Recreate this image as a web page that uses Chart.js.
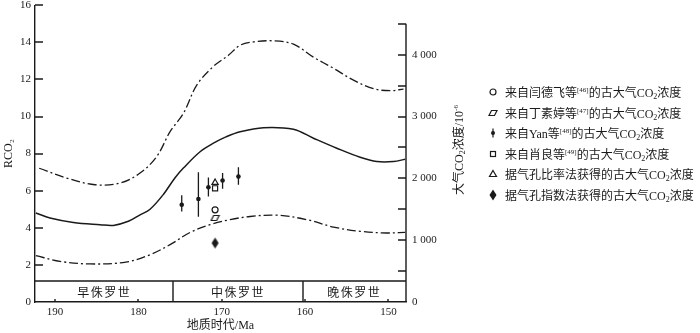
<!DOCTYPE html>
<html>
<head>
<meta charset="utf-8">
<script src="https://cdn.jsdelivr.net/npm/chart.js@4.4.1/dist/chart.umd.min.js"></script>
<style>
  body { margin: 0; background: #fff; }
  #wrap { position: relative; width: 700px; height: 333px; }
  #legend { position: absolute; left: 487px; top: 82px; font: 12px "Liberation Serif", "Noto Sans CJK SC", serif; color: #1a1a1a; }
  .row { height: 20.5px; display: flex; align-items: center; white-space: nowrap; }
  .row canvas { width: 12px; height: 14px; margin-right: 6px; }
  sup { font-size: 7px; vertical-align: 5px; }
  sub { font-size: 8px; vertical-align: -2px; }
  #ytitle2 { position: absolute; left: 458px; top: 150px; transform: translate(-50%, -50%) rotate(-90deg);
    font: 12px "Liberation Serif", "Noto Sans CJK SC", serif; color: #1a1a1a; white-space: nowrap; }
</style>
</head>
<body>
<div id="wrap">
  <canvas id="chart" width="700" height="333"></canvas>
  <div id="ytitle2">大气CO<sub>2</sub>浓度/10<sup>-6</sup></div>
  <div id="legend"></div>
</div>
<script>
// tick labels
const xTicks = [190, 180, 170, 160, 150];
const yTicks = [0, 2, 4, 6, 8, 10, 12, 14, 16];
const y2Ticks = [0, 500, 1000, 1500, 2000, 2500, 3000, 3500, 4000, 4500];
const xMin = 147.9, xMax = 192.4;

// model curves (age Ma, RCO2)
const upperAge = [191.9, 188.6, 185.2, 182.2, 179.8, 177.8, 176.2, 174.6, 173, 171, 169.2, 167.8, 166.2, 163.8, 161.4, 159, 156.6, 154.2, 151.8, 149.8, 148.2];
const upperR = [7.21, 6.68, 6.32, 6.41, 6.95, 7.84, 9.18, 10.17, 11.69, 12.7, 13.3, 13.84, 14.02, 14.08, 13.9, 13.2, 12.6, 11.96, 11.5, 11.39, 11.48];
const midAge = [192.3, 190.6, 187.8, 184.6, 183, 181.2, 179.8, 178.6, 177, 175.6, 174.6, 172.6, 171, 169.5, 167.8, 165, 161.4, 159, 156.2, 153.4, 151.4, 149.4, 148];
const midR = [4.8, 4.53, 4.29, 4.17, 4.13, 4.35, 4.7, 5.0, 5.8, 6.7, 7.22, 8.1, 8.56, 8.9, 9.18, 9.4, 9.31, 8.83, 8.29, 7.8, 7.57, 7.57, 7.7];
const lowerAge = [192.3, 189.4, 185.8, 181.5, 178.6, 176.2, 173.8, 171.4, 169, 166.6, 163.4, 159.8, 156.6, 153.4, 150.2, 148];
const lowerR = [2.5, 2.19, 2.05, 2.15, 2.55, 3.09, 3.75, 4.17, 4.44, 4.61, 4.68, 4.44, 4.04, 3.81, 3.72, 3.75];

// proxy data
const yanAge = [174.8, 172.8, 171.6, 169.9, 168.0];
const yanR = [5.24, 5.55, 6.19, 6.55, 6.76];
const yanLow = [4.88, 4.6, 5.69, 6.1, 6.32];
const yanHigh = [5.75, 7.0, 6.71, 6.95, 7.27];
const proxyAge = 170.8;
const yanDefeiR = [4.97];
const dingR = [4.53];
const xiaoR = [6.13];
const ratioR = [6.44];
const indexR = [3.18];

// epochs
const epochNames = ['早侏罗世', '中侏罗世', '晚侏罗世'];
const epochEdges = [xMax, 175.8, 160.3, xMin];
const epochTop = 1.12;

const ink = '#1a1a1a';
const serif = '"Liberation Serif", "Noto Sans CJK SC", serif';

function markCanvas(w, h, draw) {
  const c = document.createElement('canvas');
  c.width = w; c.height = h;
  const g = c.getContext('2d');
  g.strokeStyle = ink; g.fillStyle = ink; g.lineWidth = 1.2;
  draw(g, w, h);
  return c;
}
const drawPara = (g, w, h) => { const cx = w / 2, cy = h / 2; g.beginPath(); g.moveTo(cx - 1.5, cy - 2.5); g.lineTo(cx + 4, cy - 2.5); g.lineTo(cx + 1.5, cy + 2.5); g.lineTo(cx - 4, cy + 2.5); g.closePath(); g.stroke(); };
const drawDiamond = (g, w, h) => { const cx = w / 2, cy = h / 2; g.beginPath(); g.moveTo(cx, cy - 5.5); g.lineTo(cx + 3.5, cy); g.lineTo(cx, cy + 5.5); g.lineTo(cx - 3.5, cy); g.closePath(); g.fill(); };
const drawCircle = (g, w, h) => { g.beginPath(); g.arc(w / 2, h / 2, 3, 0, Math.PI * 2); g.stroke(); };
const drawYan = (g, w, h) => { g.beginPath(); g.moveTo(w / 2, h / 2 - 4.5); g.lineTo(w / 2, h / 2 + 4.5); g.stroke(); g.beginPath(); g.arc(w / 2, h / 2, 2, 0, Math.PI * 2); g.fill(); };
const drawSquare = (g, w, h) => { g.strokeRect(w / 2 - 2.5, h / 2 - 2.5, 5, 5); };
const drawTri = (g, w, h) => { g.beginPath(); g.moveTo(w / 2, h / 2 - 3.5); g.lineTo(w / 2 + 3.5, h / 2 + 2.5); g.lineTo(w / 2 - 3.5, h / 2 + 2.5); g.closePath(); g.stroke(); };

const paraStyle = markCanvas(11, 8, drawPara);
const diamondStyle = markCanvas(9, 13, drawDiamond);

const pts = (xs, ys) => xs.map((x, i) => ({ x, y: ys[i] }));
const single = ys => ys.map(y => ({ x: proxyAge, y }));

const decor = {
  id: 'decor',
  beforeDatasetsDraw(chart) {
    const { ctx, scales: { x, y } } = chart;
    ctx.save();
    ctx.strokeStyle = ink; ctx.lineWidth = 1.3;
    ctx.beginPath();
    yanAge.forEach((a, i) => {
      const px = x.getPixelForValue(a);
      ctx.moveTo(px, y.getPixelForValue(yanLow[i]));
      ctx.lineTo(px, y.getPixelForValue(yanHigh[i]));
    });
    ctx.stroke();
    ctx.restore();
  },
  afterDraw(chart) {
    const { ctx, chartArea: a, scales: { x, y, y2 } } = chart;
    ctx.save();
    ctx.strokeStyle = ink; ctx.lineWidth = 1.4;
    ctx.beginPath();
    yTicks.slice(1).forEach(v => { const py = Math.round(y.getPixelForValue(v)); ctx.moveTo(a.left, py); ctx.lineTo(a.left + 8, py); });
    y2Ticks.slice(1).forEach(v => { const py = Math.round(y2.getPixelForValue(v)); ctx.moveTo(a.right - 8, py); ctx.lineTo(a.right, py); });
    xTicks.forEach(v => { const px = Math.round(x.getPixelForValue(v)); ctx.moveTo(px, a.bottom); ctx.lineTo(px, a.bottom - 3); });
    ctx.moveTo(a.right, y2.getPixelForValue(0));
    ctx.lineTo(a.right, y2.getPixelForValue(y2Ticks[y2Ticks.length - 1]));
    const bt = Math.round(y.getPixelForValue(epochTop));
    ctx.moveTo(a.left, bt); ctx.lineTo(a.right, bt);
    epochEdges.slice(1, -1).forEach(e => { const px = Math.round(x.getPixelForValue(e)); ctx.moveTo(px, bt); ctx.lineTo(px, a.bottom); });
    ctx.stroke();
    ctx.fillStyle = ink;
    ctx.font = '12px "Noto Sans CJK SC", sans-serif';
    ctx.textAlign = 'center'; ctx.textBaseline = 'middle';
    if ('letterSpacing' in ctx) ctx.letterSpacing = '1.5px';
    epochNames.forEach((n, i) => {
      const cx = (x.getPixelForValue(epochEdges[i]) + x.getPixelForValue(epochEdges[i + 1])) / 2;
      ctx.fillText(n, cx, (bt + a.bottom) / 2 + 0.5);
    });
    ctx.restore();
  }
};

const curve = (data, dash) => ({
  type: 'line', data, showLine: true, borderColor: ink, borderWidth: dash ? 1.3 : 1.5,
  borderDash: dash || [], pointRadius: 0, tension: 0.35, fill: false
});

new Chart(document.getElementById('chart'), {
  type: 'scatter',
  data: {
    datasets: [
      curve(pts(upperAge, upperR), [9, 3, 2, 3]),
      curve(pts(midAge, midR)),
      curve(pts(lowerAge, lowerR), [9, 3, 2, 3]),
      { data: pts(yanAge, yanR), pointStyle: 'circle', pointRadius: 2.3, backgroundColor: ink, borderColor: ink, borderWidth: 0 },
      { data: single(yanDefeiR), pointStyle: 'circle', pointRadius: 3, backgroundColor: '#fff', borderColor: ink, borderWidth: 1.2 },
      { data: single(dingR), pointStyle: paraStyle },
      { data: single(xiaoR), pointStyle: 'rect', pointRadius: 3.6, backgroundColor: '#fff', borderColor: ink, borderWidth: 1.2 },
      { data: single(ratioR), pointStyle: 'triangle', pointRadius: 3.6, backgroundColor: '#fff', borderColor: ink, borderWidth: 1.2 },
      { data: single(indexR), pointStyle: diamondStyle }
    ]
  },
  options: {
    responsive: false,
    animation: false,
    events: [],
    layout: { padding: { top: 4.5, right: 244, bottom: 0, left: 0 } },
    plugins: { legend: { display: false }, tooltip: { enabled: false } },
    scales: {
      x: {
        type: 'linear', min: xMin, max: xMax, reverse: true,
        afterBuildTicks: s => { s.ticks = xTicks.map(v => ({ value: v })); },
        afterFit: s => { s.height = 31; s.paddingLeft = 0; s.paddingRight = 0; },
        grid: { drawOnChartArea: false, drawTicks: false },
        border: { display: true, color: ink, width: 1.4 },
        ticks: { padding: 4, color: ink, font: { family: serif, size: 11 }, maxRotation: 0 },
        title: { display: true, text: '地质时代/Ma', color: ink, font: { family: serif, size: 12 }, padding: { top: 0, bottom: 0 } }
      },
      y: {
        position: 'left', min: 0, max: 16,
        afterBuildTicks: s => { s.ticks = yTicks.map(v => ({ value: v })); },
        afterFit: s => { s.width = 35; s.paddingTop = 0; s.paddingBottom = 0; },
        grid: { drawOnChartArea: false, drawTicks: false },
        border: { display: true, color: ink, width: 1.4 },
        ticks: { padding: 4, color: ink, font: { family: serif, size: 11 } },
        title: { display: true, text: 'RCO₂', color: ink, font: { family: serif, size: 12 }, padding: { top: 2, bottom: 0 } }
      },
      y2: {
        position: 'right', min: 0, max: 4800,
        afterBuildTicks: s => { s.ticks = y2Ticks.map(v => ({ value: v })); },
        afterFit: s => { s.width = 50; s.paddingTop = 0; s.paddingBottom = 0; },
        grid: { drawOnChartArea: false, drawTicks: false },
        border: { display: false },
        ticks: {
          padding: 6, color: ink, font: { family: serif, size: 11 },
          callback: v => v % 1000 !== 0 ? '' : (v === 0 ? '0' : Math.floor(v / 1000) + ' 000')
        }
      }
    }
  },
  plugins: [decor]
});

// legend (HTML text with superscripts / subscripts)
const legendRows = [
  [drawCircle, '来自闫德飞等<sup>[46]</sup>的古大气CO<sub>2</sub>浓度'],
  [drawPara, '来自丁素婷等<sup>[47]</sup>的古大气CO<sub>2</sub>浓度'],
  [drawYan, '来自Yan等<sup>[48]</sup>的古大气CO<sub>2</sub>浓度'],
  [drawSquare, '来自肖良等<sup>[49]</sup>的古大气CO<sub>2</sub>浓度'],
  [drawTri, '据气孔比率法获得的古大气CO<sub>2</sub>浓度'],
  [drawDiamond, '据气孔指数法获得的古大气CO<sub>2</sub>浓度']
];
const legendEl = document.getElementById('legend');
legendRows.forEach(([draw, html]) => {
  const row = document.createElement('div');
  row.className = 'row';
  row.appendChild(markCanvas(12, 14, draw));
  const span = document.createElement('span');
  span.innerHTML = html;
  row.appendChild(span);
  legendEl.appendChild(row);
});
</script>
</body>
</html>
